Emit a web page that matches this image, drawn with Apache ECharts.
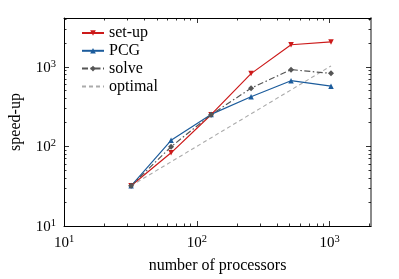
<!DOCTYPE html>
<html><head><meta charset="utf-8">
<script src="https://cdn.jsdelivr.net/npm/echarts@6/dist/echarts.min.js"></script>
<style>html,body{margin:0;padding:0;background:#fff}#c{width:399px;height:279px}</style>
</head><body><div id="c"></div>
<script>
var processors = [32, 64, 128, 256, 512, 1024];
var setupSpeed = [32, 83, 250, 820, 1890, 2050];
var pcgSpeed = [32, 119, 252, 420, 668, 570];
var solveSpeed = [32, 99, 250, 538, 920, 826];
var optimalX = [32, 1024];
var optimalY = [32, 1024];
var xMajor = [10, 100, 1000];
var xMinor = [20,30,40,50,60,70,80,90,200,300,400,500,600,700,800,900,2000];
var yMajor = [10, 100, 1000];
var yMinor = [20,30,40,50,60,70,80,90,200,300,400,500,600,700,800,900,2000,3000,4000];

var FONT = '"Liberation Serif", "DejaVu Serif", serif';
function pairs(xs, ys){ return xs.map(function(x,i){ return [x, ys[i]]; }); }
function fmt(v){ var e = Math.round(Math.log10(v)); return '{b|10}{s|' + e + '}'; }
var rich = {
  b: {fontFamily: FONT, fontSize: 15, color: '#000', verticalAlign: 'bottom', lineHeight: 17},
  s: {fontFamily: FONT, fontSize: 10.5, color: '#000', verticalAlign: 'top', lineHeight: 17}
};

function axis(kind, pos, major, lineColor, lineWidth, withLabels, name){
  var isX = kind === 'x';
  var a = {
    type: 'log', logBase: 10, position: pos,
    min: 10, max: isX ? 2048 : 4096,
    axisLine: {show: true, lineStyle: {color: lineColor, width: lineWidth}},
    axisTick: {show: true, inside: true, length: major ? 5 : 2.5, customValues: major ? (isX ? xMajor : yMajor) : (isX ? xMinor : yMinor), lineStyle: {color: '#000', width: 0.8}},
    axisLabel: {show: false},
    splitLine: {show: false},
    minorTick: {show: false}
  };
  if (!major) a.axisLine.show = false;
  if (withLabels) {
    a.axisLabel = {show: true, customValues: isX ? xMajor : yMajor, formatter: fmt, rich: rich, margin: 8};
  }
  if (name) {
    a.name = name; a.nameLocation = 'middle';
    a.nameTextStyle = {fontFamily: FONT, fontSize: 16, color: '#000'};
    a.nameGap = isX ? 32 : 40;
  }
  return a;
}

var chart = echarts.init(document.getElementById('c'), null, {renderer: 'canvas'});
chart.setOption({
  animation: false,
  backgroundColor: '#fff',
  grid: {left: 57.5, right: 28, top: 18, bottom: 48, containLabel: false},
  xAxis: [
    axis('x', 'bottom', true, '#000', 1, true, 'number of processors'),
    axis('x', 'bottom', false, '#000', 1, false),
    axis('x', 'top', true, '#000', 1, false),
    axis('x', 'top', false, '#000', 1, false)
  ],
  yAxis: [
    axis('y', 'left', true, '#000', 1, true, 'speed-up'),
    axis('y', 'left', false, '#000', 1, false),
    axis('y', 'right', true, '#8a8a8a', 2, false),
    axis('y', 'right', false, '#000', 1, false)
  ],
  legend: {
    orient: 'vertical', left: 76, top: 20, itemWidth: 22, itemHeight: 7, itemGap: 1.8,
    textStyle: {fontFamily: FONT, fontSize: 16, color: '#000'},
    data: ['set-up', 'PCG', 'solve', {name: 'optimal', itemStyle: {opacity: 0}}]
  },
  series: [
    {name: 'optimal', type: 'line', data: pairs(optimalX, optimalY), symbol: 'none', z: 1,
     lineStyle: {color: '#ababab', width: 1.1, type: [4, 3]}, itemStyle: {color: '#ababab'}},
    {name: 'set-up', type: 'line', data: pairs(processors, setupSpeed), symbol: 'triangle', symbolRotate: 180, symbolSize: 5.5, z: 3,
     lineStyle: {color: '#cc1a1a', width: 1.2}, itemStyle: {color: '#cc1a1a'}},
    {name: 'PCG', type: 'line', data: pairs(processors, pcgSpeed), symbol: 'triangle', symbolSize: 5.5, z: 3,
     lineStyle: {color: '#1c5c9c', width: 1.2}, itemStyle: {color: '#1c5c9c'}},
    {name: 'solve', type: 'line', data: pairs(processors, solveSpeed), symbol: 'diamond', symbolSize: 6, z: 4,
     lineStyle: {color: '#555555', width: 1.2, type: [6, 2.5, 1.5, 2.5]}, itemStyle: {color: '#555555'}}
  ]
});
</script></body></html>
